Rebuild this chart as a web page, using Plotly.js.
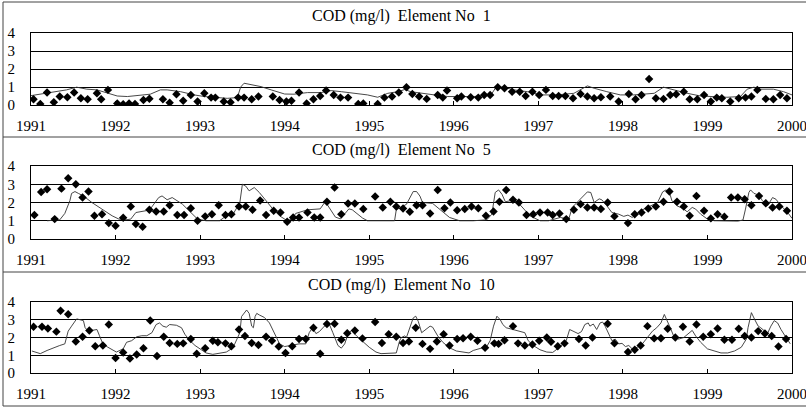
<!DOCTYPE html>
<html>
<head>
<meta charset="utf-8">
<script src="https://cdn.plot.ly/plotly-3.0.1.min.js"></script>
<style>html,body{margin:0;padding:0;background:#fff;}#chart{width:806px;height:408px;}</style>
</head>
<body>
<div id="chart"></div>
<script>
// ---------- DATA ----------
const years = [1991,1992,1993,1994,1995,1996,1997,1998,1999,2000];
const yTicks = [0,1,2,3,4];
const titles = ["COD (mg/l)\u00a0 Element No\u00a0 1", "COD (mg/l)\u00a0 Element No\u00a0 5", "COD (mg/l)\u00a0 Element No\u00a0 10"];

// Element No 1 : observed (diamonds) [decimal year, mg/l]
const obs1 = [[1991.03,0.32],[1991.11,0.06],[1991.19,0.69],[1991.27,0.15],[1991.34,0.47],[1991.43,0.43],[1991.51,0.69],[1991.59,0.37],[1991.67,0.32],[1991.78,0.65],[1991.83,0.32],[1991.91,0.84],[1992.02,0.09],[1992.09,0.04],[1992.16,0.09],[1992.23,0.06],[1992.33,0.28],[1992.40,0.35],[1992.56,0.32],[1992.64,0.13],[1992.72,0.6],[1992.80,0.24],[1992.89,0.56],[1992.97,0.19],[1993.05,0.65],[1993.13,0.41],[1993.18,0.41],[1993.28,0.19],[1993.36,0.15],[1993.45,0.41],[1993.52,0.41],[1993.61,0.32],[1993.69,0.47],[1993.86,0.47],[1993.94,0.28],[1994.02,0.19],[1994.08,0.24],[1994.17,0.69],[1994.26,0.09],[1994.34,0.32],[1994.42,0.5],[1994.49,0.8],[1994.58,0.56],[1994.66,0.41],[1994.75,0.41],[1994.87,0.06],[1994.93,0.09],[1995.10,0.06],[1995.18,0.41],[1995.27,0.47],[1995.35,0.69],[1995.44,0.99],[1995.51,0.61],[1995.59,0.47],[1995.68,0.34],[1995.81,0.56],[1995.87,0.41],[1995.92,0.8],[1996.04,0.37],[1996.09,0.47],[1996.20,0.43],[1996.29,0.41],[1996.36,0.56],[1996.43,0.56],[1996.52,0.99],[1996.60,0.93],[1996.69,0.74],[1996.78,0.74],[1996.85,0.5],[1996.93,0.74],[1997.01,0.56],[1997.09,0.84],[1997.17,0.5],[1997.24,0.5],[1997.32,0.5],[1997.41,0.37],[1997.50,0.61],[1997.58,0.47],[1997.66,0.37],[1997.74,0.43],[1997.85,0.47],[1997.95,0.19],[1998.07,0.61],[1998.15,0.32],[1998.22,0.56],[1998.31,1.45],[1998.39,0.37],[1998.48,0.34],[1998.56,0.56],[1998.63,0.6],[1998.72,0.74],[1998.79,0.32],[1998.88,0.32],[1998.96,0.56],[1999.04,0.19],[1999.11,0.41],[1999.17,0.37],[1999.27,0.19],[1999.37,0.37],[1999.45,0.41],[1999.52,0.47],[1999.59,0.84],[1999.69,0.34],[1999.78,0.32],[1999.86,0.56],[1999.94,0.37]];
// Element No 1 : simulated (line)
const sim1 = [[1991.0,0.52],[1991.23,0.69],[1991.42,0.84],[1991.54,0.99],[1991.66,0.88],[1991.78,0.84],[1991.90,0.65],[1992.02,0.5],[1992.14,0.47],[1992.29,0.56],[1992.41,0.6],[1992.53,0.84],[1992.61,0.84],[1992.77,0.74],[1992.93,0.56],[1993.05,0.47],[1993.16,0.43],[1993.32,0.37],[1993.44,0.41],[1993.48,1.0],[1993.52,1.21],[1993.64,1.12],[1993.72,1.02],[1993.84,0.84],[1994.0,0.61],[1994.11,0.6],[1994.27,0.69],[1994.43,0.69],[1994.55,0.8],[1994.67,0.74],[1994.83,0.65],[1994.98,0.56],[1995.10,0.43],[1995.22,0.65],[1995.34,0.74],[1995.42,0.86],[1995.49,0.74],[1995.61,0.65],[1995.77,0.56],[1995.93,0.47],[1996.08,0.47],[1996.24,0.47],[1996.44,0.56],[1996.50,0.99],[1996.59,0.99],[1996.71,0.84],[1996.87,0.74],[1997.03,0.56],[1997.22,0.56],[1997.42,0.65],[1997.58,1.06],[1997.66,0.93],[1997.81,0.74],[1997.97,0.56],[1998.13,0.56],[1998.37,0.65],[1998.48,0.99],[1998.60,0.84],[1998.76,0.65],[1998.92,0.5],[1999.07,0.47],[1999.23,0.43],[1999.39,0.47],[1999.47,0.88],[1999.55,0.99],[1999.63,0.88],[1999.78,0.88],[1999.90,0.74],[2000.0,0.56]];

// Element No 5 : observed
const obs5 = [[1991.04,1.31],[1991.12,2.58],[1991.19,2.73],[1991.28,1.09],[1991.36,2.76],[1991.44,3.33],[1991.53,3.0],[1991.61,2.27],[1991.68,2.6],[1991.75,1.27],[1991.84,1.36],[1991.92,0.87],[1992.00,0.73],[1992.09,1.16],[1992.18,1.78],[1992.24,0.82],[1992.32,0.67],[1992.40,1.6],[1992.48,1.51],[1992.57,1.51],[1992.64,1.85],[1992.73,1.31],[1992.81,1.31],[1992.89,1.69],[1992.97,1.0],[1993.06,1.24],[1993.14,1.36],[1993.22,1.85],[1993.30,1.31],[1993.37,1.36],[1993.46,1.78],[1993.54,1.78],[1993.62,1.6],[1993.71,2.11],[1993.78,1.31],[1993.87,1.55],[1993.95,1.45],[1994.03,0.95],[1994.10,1.18],[1994.17,1.18],[1994.27,1.45],[1994.35,1.18],[1994.42,1.18],[1994.50,2.04],[1994.59,2.82],[1994.67,1.36],[1994.75,1.95],[1994.83,1.95],[1994.93,1.64],[1995.07,2.33],[1995.16,1.73],[1995.25,2.04],[1995.32,1.78],[1995.40,1.67],[1995.48,1.49],[1995.56,1.85],[1995.63,1.85],[1995.72,1.4],[1995.81,2.69],[1995.89,1.69],[1995.96,2.0],[1996.04,1.58],[1996.13,1.64],[1996.21,1.78],[1996.29,1.69],[1996.38,1.27],[1996.47,1.51],[1996.54,2.04],[1996.62,2.69],[1996.70,2.15],[1996.77,2.0],[1996.86,1.31],[1996.94,1.36],[1997.02,1.45],[1997.11,1.45],[1997.17,1.31],[1997.25,1.4],[1997.33,1.09],[1997.42,1.6],[1997.50,1.91],[1997.58,1.73],[1997.66,1.73],[1997.74,1.64],[1997.82,2.0],[1997.90,1.24],[1998.06,0.87],[1998.14,1.36],[1998.22,1.45],[1998.30,1.67],[1998.39,1.78],[1998.48,2.04],[1998.55,2.6],[1998.64,2.04],[1998.72,1.78],[1998.79,1.27],[1998.87,2.36],[1998.96,1.55],[1999.04,1.13],[1999.12,1.36],[1999.20,1.22],[1999.28,2.27],[1999.36,2.27],[1999.44,2.18],[1999.52,1.85],[1999.61,2.36],[1999.69,1.96],[1999.77,1.73],[1999.85,1.78],[1999.94,1.55]];
// Element No 5 : simulated
const sim5 = [[1991.19,1.0],[1991.34,1.05],[1991.40,1.4],[1991.46,2.1],[1991.48,2.5],[1991.52,2.6],[1991.56,2.5],[1991.62,2.36],[1991.72,2.0],[1991.84,1.64],[1991.96,1.27],[1992.04,1.09],[1992.12,1.05],[1992.18,1.09],[1992.24,1.45],[1992.36,1.55],[1992.41,1.64],[1992.51,2.27],[1992.55,2.36],[1992.61,2.15],[1992.67,2.27],[1992.79,1.91],[1992.89,1.45],[1992.97,1.09],[1993.07,1.0],[1993.23,1.0],[1993.31,1.27],[1993.39,1.36],[1993.47,2.0],[1993.50,3.0],[1993.54,2.9],[1993.58,2.64],[1993.64,2.82],[1993.70,2.55],[1993.78,2.1],[1993.86,1.64],[1993.94,1.27],[1994.03,1.0],[1994.09,1.1],[1994.13,1.4],[1994.27,1.6],[1994.42,1.65],[1994.48,2.05],[1994.60,1.2],[1994.66,1.1],[1994.76,1.65],[1994.80,1.6],[1994.92,1.15],[1994.98,1.0],[1995.30,1.0],[1995.32,1.6],[1995.44,1.9],[1995.52,2.6],[1995.56,2.6],[1995.60,2.35],[1995.63,2.0],[1995.75,1.95],[1995.83,1.64],[1995.95,1.18],[1996.07,1.0],[1996.23,1.0],[1996.39,1.05],[1996.45,1.36],[1996.49,2.55],[1996.53,2.69],[1996.57,2.45],[1996.61,2.04],[1996.67,2.1],[1996.75,2.04],[1996.83,1.64],[1996.90,1.27],[1997.02,1.0],[1997.12,1.0],[1997.26,1.18],[1997.36,1.09],[1997.40,1.73],[1997.50,2.18],[1997.58,2.58],[1997.62,2.55],[1997.66,2.0],[1997.72,2.2],[1997.75,2.15],[1997.81,1.82],[1997.87,1.45],[1997.95,1.36],[1998.01,1.24],[1998.06,1.31],[1998.11,1.18],[1998.21,1.55],[1998.33,1.82],[1998.41,2.0],[1998.47,2.58],[1998.51,2.69],[1998.55,2.55],[1998.58,2.1],[1998.64,1.82],[1998.72,1.64],[1998.76,1.49],[1998.82,1.73],[1998.86,1.64],[1998.92,1.36],[1999.0,1.09],[1999.08,1.0],[1999.36,0.98],[1999.42,1.04],[1999.45,1.64],[1999.49,2.55],[1999.51,2.69],[1999.55,2.5],[1999.61,2.4],[1999.65,2.1],[1999.71,1.82],[1999.77,2.27],[1999.81,2.18],[1999.87,1.82],[1999.95,1.45],[2000.0,1.13]];

// Element No 10 : observed
const obs10 = [[1991.03,2.6],[1991.13,2.6],[1991.20,2.51],[1991.30,2.33],[1991.35,3.51],[1991.44,3.31],[1991.53,1.78],[1991.61,2.04],[1991.69,2.4],[1991.76,1.51],[1991.85,1.55],[1991.92,2.73],[1992.00,0.85],[1992.09,1.15],[1992.17,0.82],[1992.25,1.04],[1992.33,1.4],[1992.41,2.96],[1992.49,0.96],[1992.57,2.04],[1992.64,1.69],[1992.73,1.64],[1992.80,1.67],[1992.89,1.91],[1992.96,1.09],[1993.06,1.4],[1993.15,1.82],[1993.21,1.73],[1993.30,1.67],[1993.37,1.51],[1993.46,2.45],[1993.53,2.09],[1993.61,1.69],[1993.69,1.58],[1993.78,2.04],[1993.85,1.82],[1993.93,1.49],[1994.01,1.13],[1994.09,1.51],[1994.17,1.91],[1994.25,1.91],[1994.34,2.55],[1994.42,1.09],[1994.50,2.76],[1994.59,2.78],[1994.67,1.87],[1994.74,2.24],[1994.83,2.4],[1994.92,1.95],[1995.07,2.87],[1995.15,1.69],[1995.23,2.18],[1995.32,2.04],[1995.40,1.69],[1995.47,1.78],[1995.55,2.55],[1995.63,1.64],[1995.72,1.36],[1995.80,1.78],[1995.88,2.18],[1995.95,1.55],[1996.04,1.91],[1996.11,1.96],[1996.20,2.04],[1996.28,1.82],[1996.37,1.42],[1996.48,1.67],[1996.53,1.64],[1996.60,1.85],[1996.70,2.64],[1996.76,1.67],[1996.84,1.55],[1996.93,1.6],[1997.01,1.82],[1997.10,2.0],[1997.15,1.76],[1997.23,1.51],[1997.31,1.67],[1997.48,1.91],[1997.56,1.55],[1997.64,2.0],[1997.82,2.78],[1997.90,1.67],[1998.06,1.18],[1998.14,1.31],[1998.21,1.55],[1998.29,2.64],[1998.37,1.95],[1998.45,1.96],[1998.53,2.49],[1998.62,2.0],[1998.71,2.6],[1998.79,1.78],[1998.87,2.73],[1998.95,2.04],[1999.04,2.18],[1999.12,2.51],[1999.20,1.87],[1999.29,1.87],[1999.37,2.49],[1999.44,2.09],[1999.52,2.0],[1999.60,2.36],[1999.68,2.22],[1999.76,2.09],[1999.84,1.49],[1999.93,1.91]];
// Element No 10 : simulated
const sim10 = [[1991.01,1.24],[1991.11,1.09],[1991.19,1.27],[1991.26,1.42],[1991.34,1.55],[1991.40,1.64],[1991.44,2.36],[1991.48,2.64],[1991.52,2.95],[1991.54,3.05],[1991.58,3.0],[1991.62,2.95],[1991.64,2.55],[1991.66,2.45],[1991.72,2.4],[1991.78,2.45],[1991.81,2.1],[1991.85,1.64],[1991.91,1.45],[1991.97,1.3],[1992.01,1.18],[1992.09,1.36],[1992.13,1.73],[1992.19,1.82],[1992.25,2.04],[1992.31,2.1],[1992.37,2.1],[1992.43,2.27],[1992.48,2.73],[1992.52,2.82],[1992.56,2.64],[1992.60,2.58],[1992.64,2.73],[1992.72,2.69],[1992.78,2.55],[1992.82,2.18],[1992.88,1.82],[1992.94,1.55],[1993.0,1.36],[1993.07,1.13],[1993.15,1.05],[1993.23,1.13],[1993.31,1.18],[1993.37,1.36],[1993.41,1.64],[1993.47,2.27],[1993.49,3.18],[1993.55,3.55],[1993.58,3.36],[1993.61,2.64],[1993.63,2.55],[1993.65,3.18],[1993.67,3.36],[1993.70,3.27],[1993.76,3.13],[1993.82,2.82],[1993.88,2.18],[1993.94,1.64],[1994.0,1.49],[1994.06,1.55],[1994.17,1.64],[1994.25,1.64],[1994.29,2.27],[1994.33,2.55],[1994.37,2.22],[1994.41,2.33],[1994.47,2.64],[1994.51,2.76],[1994.53,2.73],[1994.57,2.27],[1994.63,1.55],[1994.67,1.4],[1994.71,1.64],[1994.75,2.2],[1994.79,2.4],[1994.85,2.09],[1994.93,1.73],[1995.0,1.45],[1995.08,1.18],[1995.14,1.09],[1995.32,1.13],[1995.36,1.82],[1995.38,2.0],[1995.42,2.09],[1995.44,2.0],[1995.48,2.55],[1995.52,3.1],[1995.55,3.2],[1995.58,2.91],[1995.62,2.27],[1995.66,2.4],[1995.72,2.64],[1995.75,2.58],[1995.81,2.09],[1995.87,1.73],[1995.95,1.42],[1996.03,1.24],[1996.11,1.16],[1996.18,1.13],[1996.23,1.27],[1996.31,1.36],[1996.39,1.49],[1996.43,1.82],[1996.47,2.64],[1996.51,3.2],[1996.55,3.0],[1996.58,2.73],[1996.62,2.55],[1996.70,2.45],[1996.78,2.36],[1996.84,2.27],[1996.88,1.82],[1996.94,1.55],[1997.02,1.31],[1997.10,1.18],[1997.17,1.16],[1997.25,1.45],[1997.33,1.82],[1997.37,2.45],[1997.41,2.36],[1997.47,2.22],[1997.51,2.33],[1997.55,2.73],[1997.59,2.82],[1997.61,2.64],[1997.65,2.76],[1997.69,2.45],[1997.73,2.82],[1997.76,2.87],[1997.79,2.64],[1997.83,2.18],[1997.87,1.82],[1997.91,1.91],[1997.95,1.64],[1997.99,1.67],[1998.03,1.49],[1998.07,1.55],[1998.11,1.36],[1998.17,1.45],[1998.23,1.64],[1998.29,2.0],[1998.35,2.36],[1998.40,2.55],[1998.45,2.82],[1998.49,3.3],[1998.52,3.0],[1998.56,2.55],[1998.60,2.09],[1998.66,1.91],[1998.72,2.0],[1998.78,2.27],[1998.82,2.4],[1998.86,2.09],[1998.92,1.73],[1999.0,1.36],[1999.08,1.24],[1999.16,1.13],[1999.24,1.13],[1999.32,1.24],[1999.40,1.45],[1999.46,1.91],[1999.48,2.55],[1999.52,3.4],[1999.56,3.0],[1999.60,2.64],[1999.63,2.55],[1999.67,2.36],[1999.71,2.22],[1999.75,2.64],[1999.79,2.95],[1999.83,2.82],[1999.87,2.45],[1999.93,2.0],[1999.98,1.64]];

// ---------- CHART ----------
const W = 806, H = 408;
const FONT = 'Liberation Serif';
const panels = [
  {obs: obs1, sim: sim1, top: 33, bottom: 105, titleY: 16},
  {obs: obs5, sim: sim5, top: 166, bottom: 239, titleY: 150},
  {obs: obs10, sim: sim10, top: 302, bottom: 373, titleY: 285}
];
const xDomain = [31 / W, 792 / W];
const traces = [];
const layout = {
  width: W, height: H,
  margin: {l: 0, r: 0, t: 0, b: 0},
  paper_bgcolor: '#fff', plot_bgcolor: '#fff',
  showlegend: false,
  font: {family: FONT, size: 15, color: '#000'},
  annotations: [], shapes: []
};
panels.forEach((p, i) => {
  const n = i === 0 ? '' : String(i + 1);
  const xa = 'x' + n, ya = 'y' + n;
  traces.push({
    x: p.sim.map(d => d[0]), y: p.sim.map(d => d[1]),
    xaxis: xa, yaxis: ya, type: 'scatter', mode: 'lines',
    line: {color: '#333', width: 0.9}, hoverinfo: 'skip'
  });
  traces.push({
    x: p.obs.map(d => d[0]), y: p.obs.map(d => d[1]),
    xaxis: xa, yaxis: ya, type: 'scatter', mode: 'markers',
    marker: {symbol: 'diamond', size: 6.5, color: '#000'}, hoverinfo: 'skip'
  });
  layout['xaxis' + n] = {
    domain: xDomain, anchor: ya, range: [1991, 2000],
    tickmode: 'array', tickvals: years, ticktext: years.map(String),
    ticks: 'inside', ticklen: 4, tickwidth: 1, tickcolor: '#000',
    showline: true, linecolor: '#000', linewidth: 1, mirror: true,
    showgrid: false, zeroline: false, fixedrange: true,
    ticklabelstandoff: 7, ticklabeloverflow: 'allow',
    tickfont: {family: FONT, size: 15, color: '#000'}
  };
  layout['yaxis' + n] = {
    domain: [1 - p.bottom / H, 1 - p.top / H], anchor: xa, range: [0, 4],
    tickmode: 'array', tickvals: yTicks, ticktext: yTicks.map(String),
    ticks: '', showgrid: true, gridcolor: '#000', gridwidth: 1,
    showline: true, linecolor: '#000', linewidth: 1, mirror: true,
    zeroline: false, fixedrange: true,
    ticklabelstandoff: 12,
    tickfont: {family: FONT, size: 15, color: '#000'}
  };
  layout.annotations.push({
    text: titles[i], xref: 'paper', yref: 'paper',
    x: 401 / W, y: 1 - p.titleY / H, xanchor: 'center', yanchor: 'middle',
    showarrow: false, font: {family: FONT, size: 16, color: '#000'}
  });
});
// panel frames
[2, 137, 272, 406].forEach(yy => {
  layout.shapes.push({type: 'line', xref: 'paper', yref: 'paper',
    x0: 3 / W, x1: 1, y0: 1 - yy / H, y1: 1 - yy / H,
    line: {color: '#444', width: 1}});
});
layout.shapes.push({type: 'line', xref: 'paper', yref: 'paper',
  x0: 3 / W, x1: 3 / W, y0: 1 - 406 / H, y1: 1 - 2 / H,
  line: {color: '#444', width: 1}});

Plotly.newPlot('chart', traces, layout, {staticPlot: true, displayModeBar: false});
</script>
</body>
</html>
